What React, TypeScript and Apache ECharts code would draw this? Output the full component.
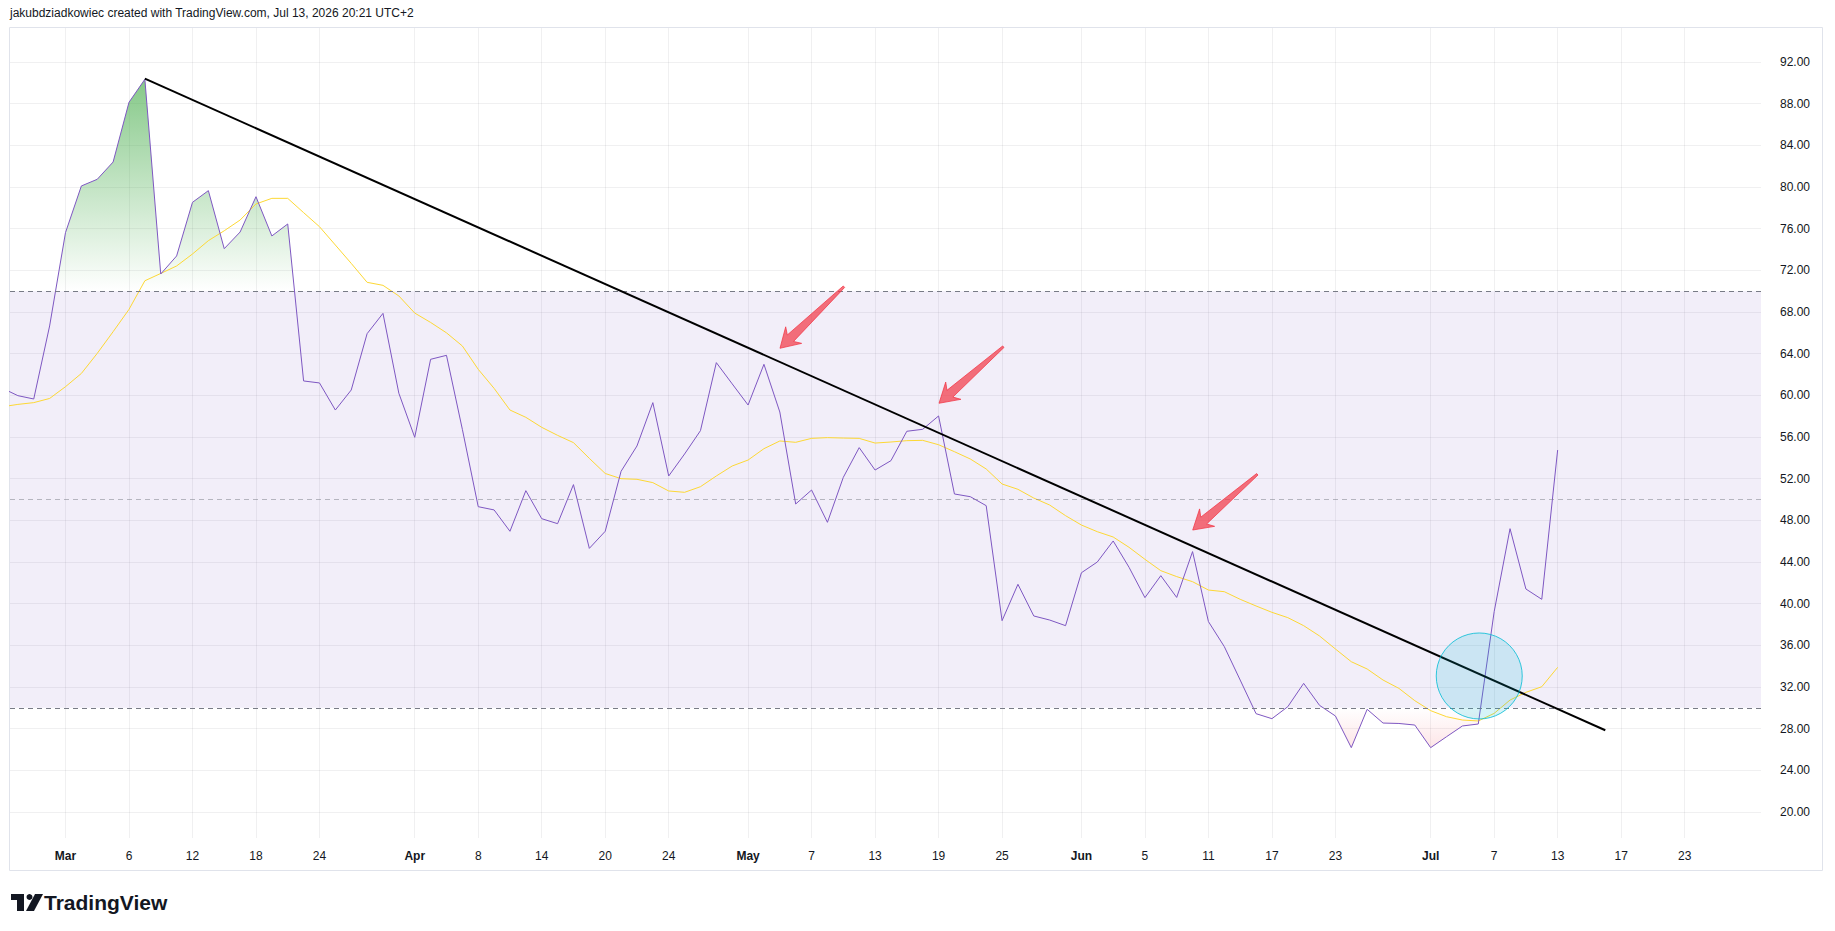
import React, { useEffect, useRef } from 'react';
import * as echarts from 'echarts';

// ---- data ----
const X_TICKS = [0, 4, 8, 12, 16, 22, 26, 30, 34, 38, 43, 47, 51, 55, 59, 64, 68, 72, 76, 80, 86, 90, 94, 98, 102];
const X_LABELS = ['Mar', '6', '12', '18', '24', 'Apr', '8', '14', '20', '24', 'May', '7', '13', '19', '25', 'Jun', '5', '11', '17', '23', 'Jul', '7', '13', '17', '23'];
const MONTHS = ['Mar', 'Apr', 'May', 'Jun', 'Jul'];
const Y_TICKS = [20, 24, 28, 32, 36, 40, 44, 48, 52, 56, 60, 64, 68, 72, 76, 80, 84, 88, 92];
const START_INDEX = -4;
const RSI = [
  60.7, 59.97, 59.65, 66.66, 75.62, 80.1, 80.74, 82.4, 88.13, 90.34,
  71.65, 73.38, 78.53, 79.65, 74.08, 75.68, 79.07, 75.3, 76.45, 61.38,
  61.19, 58.59, 60.51, 65.92, 67.87, 60.2, 55.97, 63.46, 63.84, 56.74,
  49.31, 49.0, 46.95, 50.85, 48.16, 47.68, 51.43, 45.31, 46.95, 52.71,
  55.14, 59.3, 52.26, 54.37, 56.61, 63.14, 61.1, 59.07, 62.98, 58.4,
  49.57, 50.91, 47.81, 52.13, 54.98, 52.83, 53.73, 56.55, 56.74, 58.02,
  50.53, 50.27, 49.41, 38.37, 41.86, 38.82, 38.43, 37.89, 42.97, 44.0,
  46.02, 43.49, 40.58, 42.69, 40.6, 45.0, 38.28, 35.88, 32.67, 29.44,
  28.96, 30.11, 32.35, 30.24, 29.22, 26.18, 29.86, 28.54, 28.5, 28.35,
  26.18, 27.23, 28.26, 28.45, 39.23, 47.2, 41.41, 40.42, 54.75,
];
const RSI_MA = [
  58.9, 59.13, 59.3, 59.7, 60.83, 62.1, 64.03, 66.11, 68.25, 71.0,
  71.7, 72.42, 73.57, 74.85, 75.8, 76.83, 78.37, 78.91, 78.91, 77.54,
  76.19, 74.43, 72.67, 70.85, 70.56, 69.54, 67.9, 67.0, 66.0, 64.74,
  62.5, 60.67, 58.59, 57.89, 56.93, 56.16, 55.46, 53.95, 52.5, 52.0,
  51.94, 51.62, 50.82, 50.69, 51.23, 52.26, 53.22, 53.79, 54.88, 55.62,
  55.49, 55.87, 55.94, 55.9, 55.87, 55.42, 55.52, 55.65, 55.68, 55.26,
  54.59, 53.89, 52.93, 51.49, 50.98, 50.14, 49.47, 48.45, 47.55, 46.91,
  46.4, 45.41, 44.26, 43.17, 42.6, 42.11, 41.31, 41.15, 40.42, 39.78,
  39.17, 38.66, 37.89, 36.9, 35.65, 34.43, 33.73, 32.67, 31.87, 30.69,
  29.73, 29.15, 28.83, 28.74, 29.47, 30.75, 31.49, 32.03, 33.89,
];
const TREND_LINE = [[5, 90.4], [97, 27.85]];
const ARROWS = [
  [49.04, 70.43, 45.01, 64.52],
  [59.08, 64.67, 55.03, 59.24],
  [75.08, 52.42, 71.01, 47.07],
];
const CIRCLE = [[89.06, 33.06]];
const LEVEL_UPPER = 70;
const LEVEL_MID = 50;
const LEVEL_LOWER = 30;

// ---- layout ----
const W = 1835;
const H = 931;
const GRID_LEFT = 10;
const GRID_TOP = 28;
const GRID_RIGHT_X = 1761;
const GRID_BOTTOM_Y = 838;
const Y_MIN = 17.506;
const Y_MAX = 95.264;
const X_MIN = -3.496;
const X_MAX = 106.81;

const yPx = (v: number) => GRID_TOP + ((Y_MAX - v) / (Y_MAX - Y_MIN)) * (GRID_BOTTOM_Y - GRID_TOP);

const FONT = '"Liberation Sans", Arial, sans-serif';

export default function App() {
  const ref = useRef<HTMLDivElement>(null);
  useEffect(() => {
    if (!ref.current) return;
    const chart = echarts.init(ref.current, undefined, { renderer: 'svg' });
    const rsiData = RSI.map((v, k) => [START_INDEX + k, v]);
    const maData = RSI_MA.map((v, k) => [START_INDEX + k, v]);

    const greenGrad = new echarts.graphic.LinearGradient(0, yPx(100), 0, yPx(70), [
      { offset: 0, color: 'rgba(76,175,80,1)' },
      { offset: 1, color: 'rgba(76,175,80,0)' },
    ], true);
    const redGrad = new echarts.graphic.LinearGradient(0, yPx(30), 0, yPx(0), [
      { offset: 0, color: 'rgba(242,54,69,0)' },
      { offset: 1, color: 'rgba(242,54,69,1)' },
    ], true);

    chart.setOption({
      animation: false,
      backgroundColor: '#ffffff',
      grid: {
        left: GRID_LEFT,
        top: GRID_TOP,
        right: W - GRID_RIGHT_X,
        bottom: H - GRID_BOTTOM_Y,
        containLabel: false,
      },
      xAxis: {
        type: 'value',
        min: X_MIN,
        max: X_MAX,
        axisLine: { show: false },
        axisTick: { show: false, customValues: X_TICKS },
        splitLine: { show: true, lineStyle: { color: 'rgba(42,46,57,0.07)', width: 1 } },
        axisLabel: {
          customValues: X_TICKS,
          margin: 12,
          color: '#131722',
          fontFamily: FONT,
          fontSize: 12,
          formatter: (v: number) => {
            const k = X_TICKS.indexOf(Math.round(v));
            const s = k >= 0 ? X_LABELS[k] : '';
            return MONTHS.includes(s) ? '{m|' + s + '}' : s;
          },
          rich: { m: { fontWeight: 'bold', fontSize: 12, fontFamily: FONT, color: '#131722' } },
        },
      },
      yAxis: {
        type: 'value',
        position: 'right',
        min: Y_MIN,
        max: Y_MAX,
        axisLine: { show: false },
        axisTick: { show: false, customValues: Y_TICKS },
        splitLine: { show: true, lineStyle: { color: 'rgba(42,46,57,0.07)', width: 1 } },
        axisLabel: {
          customValues: Y_TICKS,
          margin: 19,
          color: '#131722',
          fontFamily: FONT,
          fontSize: 12,
          align: 'left',
          formatter: (v: number) => v.toFixed(2),
        },
      },
      graphic: [
        {
          type: 'rect',
          silent: true,
          shape: { x: 9.5, y: 27.5, width: 1813, height: 843 },
          style: { fill: 'none', stroke: '#e0e3eb', lineWidth: 1 },
          z: 0,
        },
        {
          type: 'text',
          left: 10,
          top: 7,
          style: {
            text: 'jakubdziadkowiec created with TradingView.com, Jul 13, 2026 20:21 UTC+2',
            fill: '#131722',
            font: '12px ' + FONT,
          },
        },
        {
          type: 'group',
          left: 11,
          top: 892,
          children: [
            { type: 'rect', shape: { x: 0, y: 0, width: 13, height: 6 }, style: { fill: '#131722' } },
            { type: 'rect', shape: { x: 6, y: 0, width: 7, height: 17 }, style: { fill: '#131722' } },
            { type: 'circle', shape: { cx: 18.5, cy: 3, r: 3 }, style: { fill: '#131722' } },
            { type: 'polygon', shape: { points: [[24, 0], [32, 0], [23, 17], [15, 17]] }, style: { fill: '#131722' } },
            {
              type: 'text',
              x: 33,
              y: -2,
              style: { text: 'TradingView', fill: '#131722', font: 'bold 21px ' + FONT },
            },
          ],
        },
      ],
      series: [
        {
          type: 'line',
          name: 'zones',
          data: [],
          silent: true,
          markArea: {
            silent: true,
            itemStyle: { color: 'rgba(126,87,194,0.1)' },
            data: [[{ yAxis: LEVEL_UPPER }, { yAxis: LEVEL_LOWER }]],
          },
          markLine: {
            silent: true,
            symbol: 'none',
            label: { show: false },
            data: [
              { yAxis: LEVEL_UPPER, lineStyle: { color: '#787b86', type: [5, 4], width: 1 } },
              { yAxis: LEVEL_MID, lineStyle: { color: 'rgba(120,123,134,0.5)', type: [5, 4], width: 1 } },
              { yAxis: LEVEL_LOWER, lineStyle: { color: '#787b86', type: [5, 4], width: 1 } },
            ],
          },
        },
        {
          type: 'line',
          name: 'overbought',
          data: rsiData,
          symbol: 'none',
          silent: true,
          lineStyle: { width: 0, opacity: 0 },
          areaStyle: { origin: 'start', color: greenGrad, opacity: 1 },
          z: 2,
        },
        {
          type: 'line',
          name: 'oversold',
          data: rsiData,
          symbol: 'none',
          silent: true,
          lineStyle: { width: 0, opacity: 0 },
          areaStyle: { origin: 'end', color: redGrad, opacity: 1 },
          z: 2,
        },
        {
          type: 'line',
          name: 'RSI-based MA',
          data: maData,
          symbol: 'none',
          lineStyle: { color: '#fdd835', width: 1 },
          z: 3,
        },
        {
          type: 'line',
          name: 'RSI',
          data: rsiData,
          symbol: 'none',
          lineStyle: { color: '#7e57c2', width: 1 },
          z: 4,
        },
        {
          type: 'line',
          name: 'trend',
          data: TREND_LINE,
          symbol: 'none',
          lineStyle: { color: '#000000', width: 2 },
          z: 5,
        },
        {
          type: 'scatter',
          name: 'circle',
          data: CIRCLE,
          symbol: 'circle',
          symbolSize: 86,
          itemStyle: { color: 'rgba(0,188,212,0.2)', borderColor: '#00bcd4', borderWidth: 1 },
          z: 6,
        },
        {
          type: 'custom',
          name: 'arrows',
          data: ARROWS,
          encode: { x: [0, 2], y: [1, 3] },
          z: 7,
          renderItem: (params: any, api: any) => {
            const tail = api.coord([api.value(0), api.value(1)]);
            const tip = api.coord([api.value(2), api.value(3)]);
            const dx = tail[0] - tip[0];
            const dy = tail[1] - tip[1];
            const L = Math.sqrt(dx * dx + dy * dy);
            const ux = dx / L;
            const uy = dy / L;
            const nx = -uy;
            const ny = ux;
            const P = (a: number, b: number) => [tip[0] + ux * a + nx * b, tip[1] + uy * a + ny * b];
            const points = [
              P(0, 0), P(19, 11.5), P(14.5, 4.5), P(L, 1), P(L, -1), P(14.5, -4.5), P(19, -11.5),
            ];
            return {
              type: 'polygon',
              shape: { points },
              style: { fill: 'rgba(242,54,69,0.7)', stroke: 'rgba(242,54,69,0.75)', lineWidth: 1, lineJoin: 'round' },
            };
          },
        },
      ],
    });
    return () => chart.dispose();
  }, []);
  return (
    <div style={{ position: 'fixed', left: 0, top: 0, width: W, height: H, background: '#fff' }}>
      <div ref={ref} style={{ width: W, height: H }} />
    </div>
  );
}
